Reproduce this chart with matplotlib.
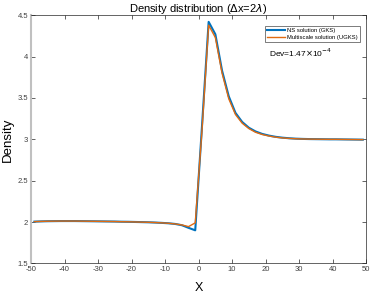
import numpy as np
import matplotlib.pyplot as plt

plt.rcParams['font.family'] = ['Liberation Sans', 'DejaVu Sans']
plt.rcParams['axes.unicode_minus'] = False

# cell centres (dx = 2)
x = [-49, -47, -45, -43, -41, -39, -37, -35, -33, -31, -29, -27, -25, -23, -21,
     -19, -17, -15, -13, -11, -9, -7, -5, -3, -1, 1, 3, 5, 7, 9, 11, 13, 15,
     17, 19, 21, 23, 25, 27, 29, 31, 33, 35, 37, 39, 41, 43, 45, 47, 49]

rho_gks = [2.005, 2.008, 2.010, 2.011, 2.012, 2.012, 2.012, 2.011, 2.010, 2.009,
           2.008, 2.007, 2.006, 2.004, 2.003, 2.001, 1.999, 1.997, 1.994, 1.990,
           1.985, 1.977, 1.962, 1.930, 1.900, 3.150, 4.420, 4.270, 3.830, 3.520,
           3.320, 3.210, 3.140, 3.095, 3.065, 3.045, 3.030, 3.020, 3.013, 3.008,
           3.005, 3.003, 3.002, 3.001, 3.000, 3.000, 2.999, 2.998, 2.997, 2.996]

rho_ugks = [2.005, 2.008, 2.010, 2.011, 2.012, 2.012, 2.012, 2.011, 2.010, 2.009,
            2.008, 2.007, 2.006, 2.004, 2.003, 2.001, 1.999, 1.997, 1.994, 1.990,
            1.985, 1.977, 1.965, 1.945, 1.990, 3.100, 4.380, 4.230, 3.800, 3.490,
            3.300, 3.195, 3.130, 3.085, 3.058, 3.040, 3.026, 3.017, 3.011, 3.007,
            3.004, 3.003, 3.002, 3.001, 3.000, 3.000, 2.999, 2.998, 2.997, 2.996]

fig = plt.figure(figsize=(3.74, 2.93), dpi=100)
ax = fig.add_axes([0.083, 0.101, 0.896, 0.847])

ax.plot(x, rho_gks, color='#0072BD', lw=1.5, label='NS solution (GKS)')
ax.plot(x, rho_ugks, color='#E06A10', lw=1.0, label='Multiscale solution (UGKS)')

ax.set_xlim(-50, 50)
ax.set_ylim(1.5, 4.5)
ax.set_xticks(np.arange(-50, 51, 10))
ax.set_yticks([1.5, 2, 2.5, 3, 3.5, 4, 4.5])
ax.set_yticklabels(['1.5', '2', '2.5', '3', '3.5', '4', '4.5'])
ax.tick_params(direction='in', top=True, right=True, length=3, width=0.5,
               labelsize=5.5, colors='#262626', labelcolor='#404040', pad=2)
for s in ax.spines.values():
    s.set_color('#262626')
    s.set_linewidth(0.5)
ax.spines['left'].set_color('#c0c0c0')
ax.spines['left'].set_linewidth(1.5)

ax.set_xlabel('X', fontsize=9, labelpad=6)
ax.set_ylabel('Density', fontsize=9.5)
ax.yaxis.set_label_coords(-0.05, 0.5)
ax.set_title('Density distribution ($\\Delta$x=2$\\lambda$)', fontsize=8, pad=2)

leg = ax.legend(loc='upper right', fontsize=4.2, frameon=True, fancybox=False,
                handlelength=3.0, handletextpad=0.4, borderpad=0.4,
                labelspacing=0.25, bbox_to_anchor=(0.99, 0.97))
leg.get_frame().set_edgecolor('#404040')
leg.get_frame().set_linewidth(0.6)

ax.text(21, 4.05, 'Dev=1.47$\\times$10$^{-4}$', fontsize=6, va='center')

fig.savefig('out.png', dpi=100)
